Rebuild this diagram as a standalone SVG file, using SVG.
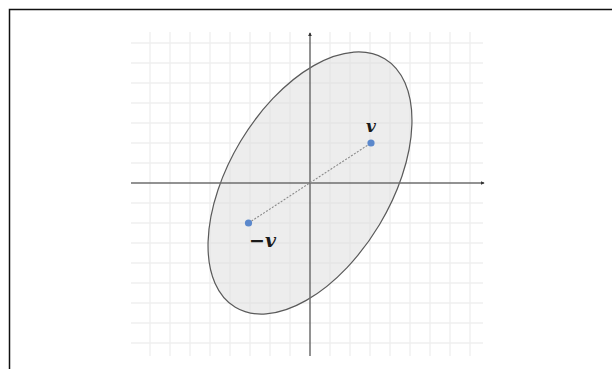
<svg xmlns="http://www.w3.org/2000/svg" width="612" height="369" viewBox="0 0 612 369">
<style>
.grid line{stroke:#efefef;stroke-width:1.3}
.axis{stroke:#6e6e6e;stroke-width:1.5;fill:none}
.pt{fill:#5b88cc}
.lbl{font-family:"DejaVu Serif","Liberation Serif",serif;font-weight:bold;font-style:italic;fill:#1a1a1a}
</style>
<defs>
<marker id="ah" viewBox="0 0 6 6" refX="5" refY="3" markerWidth="4" markerHeight="4" orient="auto" markerUnits="userSpaceOnUse">
<path d="M0,0 L6,3 L0,6 Z" fill="#333"/>
</marker>
</defs>
<rect width="612" height="369" fill="#fff"/>
<path d="M9.5,369 V9.5 H612" fill="none" stroke="#111" stroke-width="1.5"/>
<g class="grid" id="grid">
<line x1="131" y1="43" x2="483" y2="43"/><line x1="131" y1="63" x2="483" y2="63"/><line x1="131" y1="83" x2="483" y2="83"/><line x1="131" y1="103" x2="483" y2="103"/><line x1="131" y1="123" x2="483" y2="123"/><line x1="131" y1="143" x2="483" y2="143"/><line x1="131" y1="163" x2="483" y2="163"/><line x1="131" y1="203" x2="483" y2="203"/><line x1="131" y1="223" x2="483" y2="223"/><line x1="131" y1="243" x2="483" y2="243"/><line x1="131" y1="263" x2="483" y2="263"/><line x1="131" y1="283" x2="483" y2="283"/><line x1="131" y1="303" x2="483" y2="303"/><line x1="131" y1="323" x2="483" y2="323"/><line x1="131" y1="343" x2="483" y2="343"/>
<line x1="150" y1="32" x2="150" y2="356"/><line x1="170" y1="32" x2="170" y2="356"/><line x1="190" y1="32" x2="190" y2="356"/><line x1="210" y1="32" x2="210" y2="356"/><line x1="230" y1="32" x2="230" y2="356"/><line x1="250" y1="32" x2="250" y2="356"/><line x1="270" y1="32" x2="270" y2="356"/><line x1="290" y1="32" x2="290" y2="356"/><line x1="330" y1="32" x2="330" y2="356"/><line x1="350" y1="32" x2="350" y2="356"/><line x1="370" y1="32" x2="370" y2="356"/><line x1="390" y1="32" x2="390" y2="356"/><line x1="410" y1="32" x2="410" y2="356"/><line x1="430" y1="32" x2="430" y2="356"/><line x1="450" y1="32" x2="450" y2="356"/><line x1="470" y1="32" x2="470" y2="356"/>
</g>
<g id="ellipse">
<ellipse cx="310" cy="183" rx="145" ry="81" transform="rotate(-59 310 183)" fill="#dcdcdc" fill-opacity="0.5" stroke="#5a5a5a" stroke-width="1.2"/>
</g>
<g id="axes">
<line class="axis" x1="131" y1="183" x2="484" y2="183" marker-end="url(#ah)"/>
<line class="axis" x1="310" y1="356" x2="310" y2="33" marker-end="url(#ah)"/>
</g>
<g id="connectors">
<line x1="248.5" y1="223" x2="371" y2="143" stroke="#8a8a8a" stroke-width="1.1" stroke-dasharray="2,1.5"/>
</g>
<g id="v">
<circle class="pt" cx="371" cy="143" r="3.6"/>
<text class="lbl" x="371" y="132" font-size="17" text-anchor="middle">v</text>
</g>
<g id="neg-v">
<circle class="pt" cx="248.5" cy="223" r="3.6"/>
<text class="lbl" x="249" y="247" font-size="19">−v</text>
</g>
</svg>
